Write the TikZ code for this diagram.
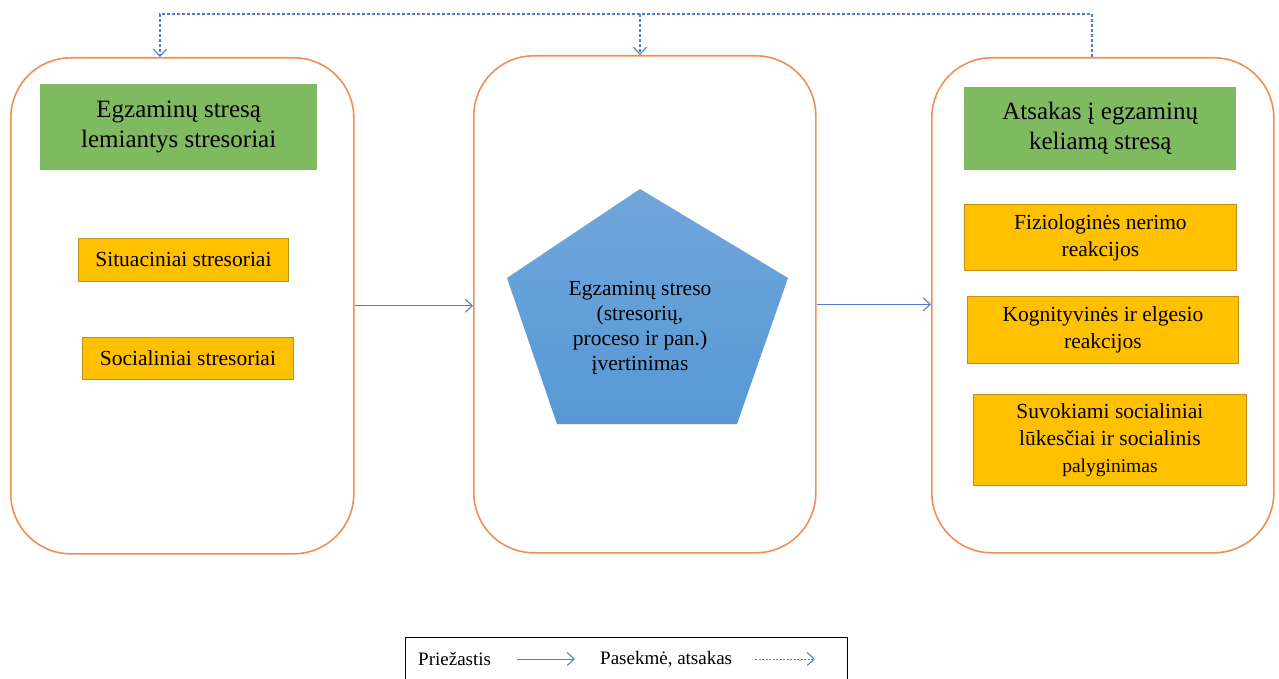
\documentclass[tikz,border=0pt]{standalone}
\usepackage{fontspec}
\setmainfont{Liberation Serif}
\usetikzlibrary{arrows.meta,calc}
\definecolor{frameor}{RGB}{241,143,82}
\definecolor{greenfill}{RGB}{128,186,96}
\definecolor{yelfill}{RGB}{255,192,0}
\definecolor{yelline}{RGB}{190,145,20}
\definecolor{arrblue}{RGB}{82,125,205}
\definecolor{pentop}{RGB}{111,166,218}
\definecolor{penbot}{RGB}{88,152,214}
\tikzset{
  bigbox/.style={draw=frameor, line width=1.6pt, rounded corners=60pt, fill=white},
  greenbox/.style={fill=greenfill, draw=none, align=center, font=\fontsize{25}{30}\selectfont},
  yelbox/.style={fill=yelfill, draw=yelline, line width=0.8pt, align=center, font=\fontsize{21.5}{27}\selectfont},
  cause/.style={draw=arrblue, line width=1.1pt, -{Straight Barb[length=7pt,width=13pt,line width=1.1pt]}},
  effect/.style={draw=arrblue, line width=1.1pt, dash pattern=on 3pt off 2pt, -{Straight Barb[length=7pt,width=13pt,line width=1.1pt]}},
}
\begin{document}
\begin{tikzpicture}[x=1pt,y=-1pt]
\useasboundingbox (0,0) rectangle (1279,679);
\clip (0,0) rectangle (1279,679);
% big frames
\node[bigbox, minimum width=343pt, minimum height=496pt, anchor=north west] (L) at (10,57) {};
\node[bigbox, minimum width=342pt, minimum height=497pt, anchor=north west] (M) at (473,55) {};
\node[bigbox, minimum width=342pt, minimum height=495pt, anchor=north west] (R) at (931,57) {};
% green headers
\node[greenbox, minimum width=277pt, minimum height=86pt, anchor=north west] (LG) at (40,84) {};
\node[font=\fontsize{25}{30}\selectfont, align=center] (LGt) at (LG.center) {Egzaminų stresą\\lemiantys stresoriai};
\node[greenbox, minimum width=272pt, minimum height=83pt, anchor=north west] (RG) at (964,87) {};
\node[font=\fontsize{25}{30}\selectfont, align=center] (RGt) at (RG.center) {Atsakas į egzaminų\\keliamą stresą};
% left yellow boxes
\node[yelbox, minimum width=210pt, minimum height=43pt, anchor=north west, inner sep=0pt] (S1) at (78,238) {};
\node[font=\fontsize{21.5}{27}\selectfont] (S1t) at (S1.center) {Situaciniai stresoriai};
\node[yelbox, minimum width=211pt, minimum height=42pt, anchor=north west, inner sep=0pt] (S2) at (82,337) {};
\node[font=\fontsize{21.5}{27}\selectfont] (S2t) at (S2.center) {Socialiniai stresoriai};
% right yellow boxes
\node[yelbox, minimum width=272pt, minimum height=66pt, anchor=north west, inner sep=0pt] (R1) at (964,204) {};
\node[font=\fontsize{21.5}{27}\selectfont, align=center] (R1t) at (R1.center) {Fiziologinės nerimo\\reakcijos};
\node[yelbox, minimum width=271pt, minimum height=67pt, anchor=north west, inner sep=0pt] (R2) at (967,296) {};
\node[font=\fontsize{21.5}{27}\selectfont, align=center] (R2t) at (R2.center) {Kognityvinės ir elgesio\\reakcijos};
\node[yelbox, minimum width=273pt, minimum height=91pt, anchor=north west, inner sep=0pt] (R3) at (973,394) {};
\node[font=\fontsize{21.5}{27}\selectfont, align=center] (R3t) at (R3.center) {Suvokiami socialiniai\\lūkesčiai ir socialinis\\{\fontsize{19.5}{24}\selectfont palyginimas}};
% pentagon
\shade[top color=pentop, bottom color=penbot] (640,189) -- (788,278) -- (737,424) -- (557,424) -- (507,278) -- cycle;
\node[font=\fontsize{21.5}{25}\selectfont, align=center] (P) at (640,328) {Egzaminų streso\\(stresorių,\\proceso ir pan.)\\įvertinimas};
% causal arrows
\draw[cause] (L.east) -- (L.east -| M.west);
\draw[cause] (M.east) -- (M.east -| R.west);
% dotted feedback
\coordinate (rt) at (1092,57);
\coordinate (tr) at (1092,14);
\coordinate (tl) at (160,14);
\coordinate (tm) at (640,14);
\draw[effect] (rt) -- (tr) -- (tl) -- (tl |- L.north);
\draw[effect] (tm) -- (tm |- M.north);
% legend
\node[draw=black, line width=0.9pt, minimum width=442pt, minimum height=60pt, anchor=north west] (LEG) at (405,637) {};
\node[font=\fontsize{19}{22}\selectfont, anchor=west, inner sep=0pt] (c1) at (418,659) {Priežastis};
\node[font=\fontsize{19}{22}\selectfont, anchor=west, inner sep=0pt] (c2) at (600,659) {Pasekmė, atsakas};
\coordinate (a1) at (517,659);
\coordinate (a2) at (575,659);
\coordinate (b1) at (755,659);
\coordinate (b2) at (815,659);
\draw[cause, line width=0.9pt] (a1) -- (a2);
\draw[effect, line width=0.9pt, dash pattern=on 2pt off 1.5pt] (b1) -- (b2);
\end{tikzpicture}
\end{document}
